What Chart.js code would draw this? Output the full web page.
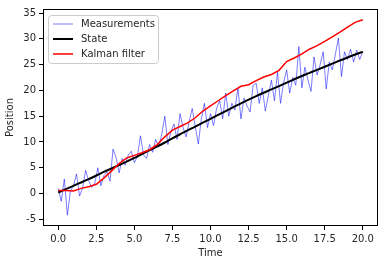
<!DOCTYPE html>
<html>
<head>
<meta charset="utf-8">
<script src="https://cdn.jsdelivr.net/npm/chart.js@4"></script>
<style>
  html, body { margin: 0; padding: 0; background: #fff; }
  #wrap { width: 384px; height: 264px; }
</style>
</head>
<body>
<div id="wrap"><canvas id="chart" width="384" height="264"></canvas></div>
<script>
// measurement times (step 0.2) and noisy positions
const measTimes = []
for (let i = 0; i <= 100; i++) measTimes.push(+(i * 0.2).toFixed(1))
const measValues = [
  1.0, -1.5, 2.8, -4.2, 0.5, 1.5, 3.8, -0.5, 1.0, 4.5,
  2.5, 1.2, 2.0, 5.0, 1.5, 3.5, 4.2, 2.4, 8.6, 7.0,
  4.0, 6.8, 5.5, 7.5, 8.2, 6.0, 7.2, 11.2, 7.5, 6.8,
  9.5, 8.0, 10.5, 9.0, 11.5, 15.0, 9.5, 12.0, 13.5, 10.5,
  15.5, 12.8, 11.0, 14.0, 16.5, 13.0, 9.6, 14.5, 17.5, 12.8,
  15.5, 13.2, 16.5, 18.0, 14.5, 19.5, 15.0, 17.5, 16.2, 20.5,
  14.5, 18.5, 17.0, 15.8, 21.0, 21.4, 17.5, 20.5, 16.0, 19.0,
  22.0, 18.0, 23.5, 17.5, 21.5, 24.0, 19.5, 22.5, 21.0, 28.5,
  20.5, 24.5, 22.0, 19.8, 26.5, 23.0, 25.0, 27.5, 20.3, 25.5,
  24.0, 27.0, 30.2, 22.7, 27.5, 26.0, 28.0, 25.5, 27.8, 26.0,
  27.5
]

// true state, one value per time unit
const stateTimes = [0, 1, 2, 3, 4, 5, 6, 7, 8, 9, 10, 11, 12, 13, 14, 15, 16, 17, 18, 19, 20]
const stateValues = [0.2, 1.5, 2.8, 4.2, 5.5, 6.9, 8.4, 9.9, 11.5, 13.0, 14.5, 16.0, 17.5, 18.9, 20.2, 21.5, 22.8, 24.0, 25.2, 26.4, 27.5]

// kalman estimate, step 0.5
const kalmanTimes = [0, 0.5, 1, 1.5, 2, 2.5, 3, 3.5, 4, 4.5, 5, 5.5, 6, 6.5, 7, 7.5, 8, 8.5, 9, 9.5,
  10, 10.5, 11, 11.5, 12, 12.5, 13, 13.5, 14, 14.5, 15, 15.5, 16, 16.5, 17, 17.5, 18, 18.5, 19, 19.5, 20]
const kalmanValues = [0.6, 0.6, 0.5, 1.0, 1.3, 1.8, 3.0, 4.4, 5.8, 6.9, 7.4, 7.9, 8.5, 9.5, 11.0, 12.3, 13.0, 13.7, 14.7, 16.0,
  17.0, 18.0, 19.0, 19.9, 20.8, 21.1, 21.9, 22.6, 23.1, 23.9, 25.6, 26.3, 27.1, 28.0, 28.7, 29.5, 30.4, 31.3, 32.3, 33.2, 33.7]

const toXY = (xs, ys) => xs.map((x, i) => ({ x: x, y: ys[i] }))

const FONT = "'DejaVu Sans', sans-serif"
const TEXT = "#262626"

// matplotlib-like frame and legend inside the plot area
const framePlugin = {
  id: "frame",
  afterDraw(chart) {
    const ctx = chart.ctx
    const a = chart.chartArea
    ctx.save()
    ctx.strokeStyle = "#000"
    ctx.lineWidth = 1
    ctx.strokeRect(a.left + 0.5, a.top + 0.5, a.right - a.left - 1, a.bottom - a.top - 1)

    // legend box
    const lx = a.left + 5, ly = a.top + 6, lw = 110, lh = 48
    ctx.fillStyle = "rgba(255,255,255,0.8)"
    ctx.strokeStyle = "#cccccc"
    ctx.beginPath()
    ctx.roundRect(lx + 0.5, ly + 0.5, lw, lh, 3)
    ctx.fill()
    ctx.stroke()
    ctx.font = "10px " + FONT
    ctx.textBaseline = "middle"
    chart.data.datasets.forEach((ds, i) => {
      const y = ly + 9 + i * 15
      ctx.strokeStyle = ds.borderColor
      ctx.lineWidth = ds.borderWidth
      ctx.beginPath()
      ctx.moveTo(lx + 5, y)
      ctx.lineTo(lx + 25, y)
      ctx.stroke()
      ctx.fillStyle = TEXT
      ctx.fillText(ds.label, lx + 33, y)
    })
    ctx.restore()
  }
}

new Chart(document.getElementById("chart"), {
  type: "line",
  data: {
    datasets: [
      {
        label: "Measurements",
        data: toXY(measTimes, measValues),
        borderColor: "rgba(0, 0, 255, 0.65)",
        borderWidth: 0.8,
        pointRadius: 0,
        tension: 0,
        order: 3,
      },
      {
        label: "State",
        data: toXY(stateTimes, stateValues),
        borderColor: "#000000",
        borderWidth: 2,
        pointRadius: 0,
        tension: 0.3,
        order: 2,
      },
      {
        label: "Kalman filter",
        data: toXY(kalmanTimes, kalmanValues),
        borderColor: "#ff0000",
        borderWidth: 1.5,
        pointRadius: 0,
        tension: 0,
        order: 1,
      },
    ],
  },
  options: {
    responsive: false,
    animation: false,
    layout: { padding: { left: 0, top: 7, right: 6, bottom: 0 } },
    plugins: {
      legend: { display: false },
      tooltip: { enabled: false },
    },
    scales: {
      x: {
        type: "linear",
        min: -1.0,
        max: 21.0,
        afterFit: (s) => { s.height = 38 },
        border: { display: false },
        grid: { drawOnChartArea: false, tickLength: 4, color: "#000", tickWidth: 1 },
        ticks: {
          stepSize: 2.5,
          includeBounds: false,
          color: TEXT,
          font: { family: FONT, size: 10 },
          padding: 3,
          maxRotation: 0,
          callback: (v) => v.toFixed(1),
        },
        title: {
          display: true,
          text: "Time",
          color: TEXT,
          font: { family: FONT, size: 10 },
          padding: { top: 0, bottom: 5 },
        },
      },
      y: {
        type: "linear",
        min: -6.3,
        max: 35.8,
        afterFit: (s) => { s.width = 43 },
        border: { display: false },
        grid: { drawOnChartArea: false, tickLength: 4, color: "#000", tickWidth: 1 },
        ticks: {
          stepSize: 5,
          includeBounds: false,
          color: TEXT,
          font: { family: FONT, size: 10 },
          padding: 3,
        },
        title: {
          display: true,
          text: "Position",
          color: TEXT,
          font: { family: FONT, size: 10 },
          padding: { top: 4, bottom: 2 },
        },
      },
    },
  },
  plugins: [framePlugin],
})
</script>
</body>
</html>
